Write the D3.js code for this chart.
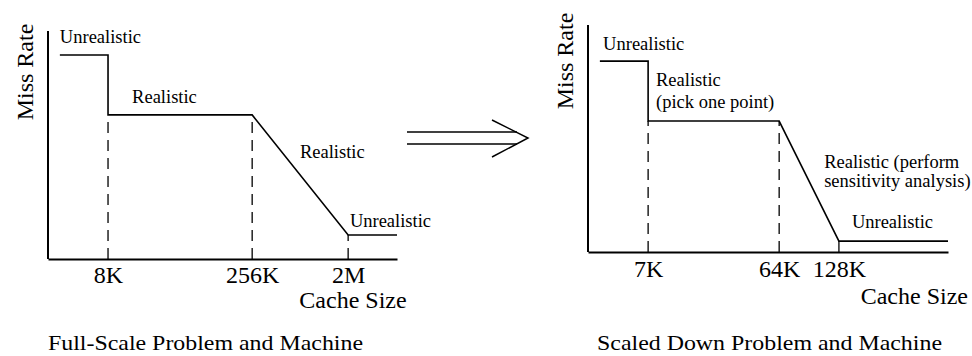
<!DOCTYPE html>
<html>
<head>
<meta charset="utf-8">
<script src="https://cdn.jsdelivr.net/npm/d3@7"></script>
<style>
  html, body { margin: 0; padding: 0; background: #fff; }
  svg { display: block; }
  text { font-family: "Liberation Serif", "Times New Roman", serif; fill: #000; }
</style>
</head>
<body>
<div id="chart"></div>
<script>
// Miss rate vs. cache size, conceptual curves (both axes in relative 0–100 units).

// Full-scale problem and machine
const fullTicks = ["8K", "256K", "2M"];
const fullTickPos = [17.2, 58.5, 86.0];
const fullCurveX = [3.4, 17.2, 17.2, 58.5, 86.0, 100];
const fullCurveY = [89.5, 89.5, 63.2, 63.2, 10.5, 10.5];
const fullGuideTop = [63.2, 63.2, 10.5];
const fullNotes = ["Unrealistic", "Realistic", "Realistic", "Unrealistic"];
const fullNoteX = [3.4, 24.1, 72.2, 86.5];
const fullNoteY = [94.7, 68.4, 44.3, 14.0];

// Scaled-down problem and machine
const scaledTicks = ["7K", "64K", "128K"];
const scaledTickPos = [16.7, 53.1, 69.7];
const scaledCurveX = [3.3, 16.7, 16.7, 53.1, 69.7, 100];
const scaledCurveY = [84.1, 84.1, 57.7, 57.7, 4.8, 4.8];
const scaledGuideTop = [57.7, 57.7, 4.8];
const scaledNotes = ["Unrealistic", "Realistic", "(pick one point)", "Realistic (perform", "sensitivity analysis)", "Unrealistic"];
const scaledNoteX = [4.2, 18.9, 18.9, 65.6, 65.6, 73.3];
const scaledNoteY = [89.0, 73.1, 63.4, 37.0, 28.6, 10.6];

const titles = ["Full-Scale Problem and Machine", "Scaled Down Problem and Machine"];
const yTitle = "Miss Rate";
const xTitle = "Cache Size";

const W = 972, H = 356;
const svg = d3.select("#chart").append("svg")
  .attr("width", W).attr("height", H)
  .attr("viewBox", `0 0 ${W} ${H}`);
svg.append("rect").attr("width", W).attr("height", H).attr("fill", "#fff");

function panel(cfg) {
  const x = d3.scaleLinear().domain([0, 100]).range(cfg.xRange);
  const y = d3.scaleLinear().domain([0, 100]).range(cfg.yRange);
  const g = svg.append("g");

  // dashed guides from the axis up to the curve at each size break
  g.selectAll("line.guide").data(cfg.tickPos).join("line")
    .attr("class", "guide")
    .attr("x1", d => x(d)).attr("x2", d => x(d))
    .attr("y1", y(0)).attr("y2", (d, i) => y(cfg.guideTop[i]))
    .attr("stroke", "#000").attr("stroke-width", 1.3)
    .attr("stroke-dasharray", "11,7");

  // miss-rate curve
  const pts = cfg.curveX.map((v, i) => [v, cfg.curveY[i]]);
  g.append("path").datum(pts)
    .attr("d", d3.line().x(d => x(d[0])).y(d => y(d[1])))
    .attr("fill", "none").attr("stroke", "#000").attr("stroke-width", 1.6);

  // axes
  const xAxis = g.append("g").attr("transform", `translate(0,${y(0)})`)
    .call(d3.axisBottom(x).tickValues(cfg.tickPos)
      .tickFormat((d, i) => cfg.ticks[i]).tickSize(0).tickSizeOuter(0).tickPadding(6));
  xAxis.select(".domain").attr("stroke", "#000").attr("stroke-width", 2);
  xAxis.selectAll(".tick text")
    .attr("font-family", "Liberation Serif, serif")
    .attr("font-size", 24).attr("fill", "#000")
    .attr("dy", null).attr("y", cfg.tickBaseline);

  const yAxis = g.append("g").attr("transform", `translate(${x(0)},0)`)
    .call(d3.axisLeft(y).tickValues([]).tickSize(0).tickSizeOuter(0));
  yAxis.select(".domain").attr("stroke", "#000").attr("stroke-width", 2)
    .attr("d", `M0,${cfg.yTop}V${y(0)}`);

  // annotations
  g.selectAll("text.note").data(cfg.notes).join("text")
    .attr("class", "note")
    .attr("x", (d, i) => x(cfg.noteX[i]))
    .attr("y", (d, i) => y(cfg.noteY[i]))
    .attr("font-size", 18.5)
    .text(d => d);

  // axis titles
  g.append("text")
    .attr("transform", `translate(${cfg.yTitlePos[0]},${cfg.yTitlePos[1]}) rotate(-90)`)
    .attr("text-anchor", "middle").attr("font-size", 24)
    .text(yTitle);
  g.append("text")
    .attr("x", cfg.xTitlePos[0]).attr("y", cfg.xTitlePos[1])
    .attr("text-anchor", cfg.xTitleAnchor).attr("font-size", 24)
    .text(xTitle);

  // panel caption
  g.append("text")
    .attr("x", cfg.captionX).attr("y", 350)
    .attr("font-size", 22)
    .attr("textLength", cfg.captionLen).attr("lengthAdjust", "spacingAndGlyphs")
    .text(cfg.caption);
}

panel({
  xRange: [48, 397], yRange: [259, 31], yTop: 31,
  ticks: fullTicks, tickPos: fullTickPos,
  curveX: fullCurveX, curveY: fullCurveY, guideTop: fullGuideTop,
  notes: fullNotes, noteX: fullNoteX, noteY: fullNoteY,
  tickBaseline: 24,
  yTitlePos: [33, 72], xTitlePos: [353, 308], xTitleAnchor: "middle",
  caption: titles[0], captionX: 48, captionLen: 315
});

panel({
  xRange: [588, 948], yRange: [252, 25], yTop: 25,
  ticks: scaledTicks, tickPos: scaledTickPos,
  curveX: scaledCurveX, curveY: scaledCurveY, guideTop: scaledGuideTop,
  notes: scaledNotes, noteX: scaledNoteX, noteY: scaledNoteY,
  tickBaseline: 25,
  yTitlePos: [573, 61], xTitlePos: [968, 304], xTitleAnchor: "end",
  caption: titles[1], captionX: 597, captionLen: 345
});

// double arrow between the two panels
const arrow = svg.append("g").attr("stroke", "#000").attr("stroke-width", 1.5).attr("fill", "none");
arrow.append("line").attr("x1", 407).attr("x2", 517).attr("y1", 132).attr("y2", 132);
arrow.append("line").attr("x1", 407).attr("x2", 517).attr("y1", 144).attr("y2", 144);
arrow.append("path").attr("d", "M492,120L528,138L492,157");
</script>
</body>
</html>
